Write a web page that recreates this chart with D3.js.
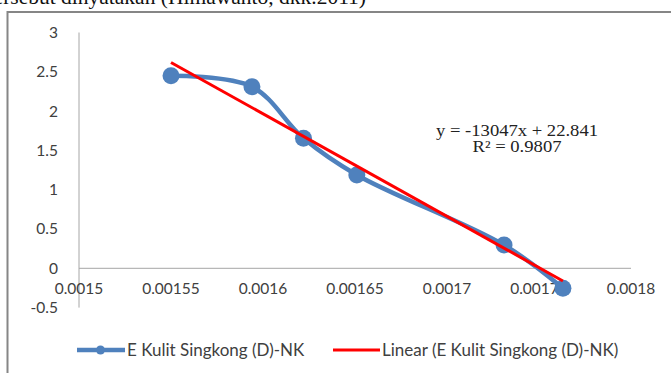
<!DOCTYPE html>
<html>
<head>
<meta charset="utf-8">
<script src="https://cdn.jsdelivr.net/npm/d3@7"></script>
<style>
  html, body { margin: 0; padding: 0; background: #fff; overflow: hidden; }
  svg { display: block; }
  .tick-label { font-family: Lato, "Open Sans", sans-serif; font-size: 15.5px; fill: #404040; }
  .legend-label { font-family: Lato, "Open Sans", sans-serif; font-size: 17px; fill: #404040; }
  .eq { font-family: "Liberation Serif", "Times New Roman", serif; font-size: 16px; fill: #222; }
  .caption { font-family: "Liberation Serif", "Times New Roman", serif; font-size: 21.5px; fill: #111; }
</style>
</head>
<body>
<script>
// Arrhenius-style plot: ln value against 1/T for the cassava-peel extract
const xValues = [0.00155, 0.001594, 0.001622, 0.001651, 0.001731, 0.001763];
const yValues = [2.45, 2.31, 1.654, 1.187, 0.296, -0.254];
const xTicks = [0.0015, 0.00155, 0.0016, 0.00165, 0.0017, 0.00175, 0.0018];
const xTickLabels = ["0.0015", "0.00155", "0.0016", "0.00165", "0.0017", "0.00175", "0.0018"];
const yTicks = [-0.5, 0, 0.5, 1, 1.5, 2, 2.5, 3];
const yTickLabels = ["-0.5", "0", "0.5", "1", "1.5", "2", "2.5", "3"];
const slope = -13047;
const intercept = 22.841;
const rSquared = 0.9807;
const seriesName = "E Kulit Singkong (D)-NK";
const trendName = "Linear (E Kulit Singkong (D)-NK)";
const captionText = "tersebut dinyatakan (Himawanto, dkk.2011)";

const W = 671, H = 373;
const blue = "#4F81BD", red = "#FF0000", axisGray = "#A6A6A6";

const svg = d3.select("body").append("svg").attr("width", W).attr("height", H);

// running text above the chart, partly cut by the page edge
svg.append("text").attr("class", "caption")
  .attr("x", 366).attr("y", 4).attr("text-anchor", "end")
  .text(captionText);

// chart frame
svg.append("rect")
  .attr("x", 7.5).attr("y", 12).attr("width", 700).attr("height", 400)
  .attr("fill", "#fff").attr("stroke", "#868686").attr("stroke-width", 2);

const x = d3.scaleLinear().domain([0.0015, 0.0018]).range([79, 631]);
const y = d3.scaleLinear().domain([-0.5, 3]).range([307.6, 32.5]);

// axes: plain lines, no tick marks
svg.append("line").attr("x1", x(0.0015)).attr("x2", x(0.0015))
  .attr("y1", y(3)).attr("y2", y(-0.5)).attr("stroke", axisGray).attr("stroke-width", 1);
svg.append("line").attr("x1", x(0.0015)).attr("x2", x(0.0018))
  .attr("y1", y(0)).attr("y2", y(0)).attr("stroke", axisGray).attr("stroke-width", 1);

svg.append("g").selectAll("text").data(yTicks).join("text")
  .attr("class", "tick-label")
  .attr("x", 58).attr("y", d => y(d)).attr("dy", "0.35em")
  .attr("text-anchor", "end")
  .text((d, i) => yTickLabels[i]);

svg.append("g").selectAll("text").data(xTicks).join("text")
  .attr("class", "tick-label")
  .attr("x", d => x(d)).attr("y", y(0) + 20).attr("dy", "0.35em")
  .attr("text-anchor", "middle")
  .text((d, i) => xTickLabels[i]);

// smoothed data series with markers
const pts = xValues.map((v, i) => [v, yValues[i]]);
const line = d3.line().x(d => x(d[0])).y(d => y(d[1])).curve(d3.curveCatmullRom.alpha(0.5));
svg.append("path").attr("d", line(pts))
  .attr("fill", "none").attr("stroke", blue).attr("stroke-width", 4.5)
  .attr("stroke-linejoin", "round").attr("stroke-linecap", "round");
svg.append("g").selectAll("circle").data(pts).join("circle")
  .attr("cx", d => x(d[0])).attr("cy", d => y(d[1])).attr("r", 8.5)
  .attr("fill", blue);

// linear trendline from the fitted equation
const xMin = d3.min(xValues), xMax = d3.max(xValues);
svg.append("line")
  .attr("x1", x(xMin)).attr("y1", y(slope * xMin + intercept))
  .attr("x2", x(xMax)).attr("y2", y(slope * xMax + intercept))
  .attr("stroke", red).attr("stroke-width", 3);

// trendline equation (slightly widened, as in the source chart)
const eqX = 517;
svg.append("text").attr("class", "eq").attr("x", eqX).attr("y", 136).attr("text-anchor", "middle")
  .attr("textLength", 162).attr("lengthAdjust", "spacingAndGlyphs")
  .text(`y = ${slope}x + ${intercept}`);
svg.append("text").attr("class", "eq").attr("x", eqX).attr("y", 152).attr("text-anchor", "middle")
  .attr("textLength", 89).attr("lengthAdjust", "spacingAndGlyphs")
  .text(`R² = ${rSquared}`);

// legend
const ly = 350;
const lg = svg.append("g");
lg.append("line").attr("x1", 77).attr("x2", 125).attr("y1", ly).attr("y2", ly)
  .attr("stroke", blue).attr("stroke-width", 4.5);
lg.append("circle").attr("cx", 100.5).attr("cy", ly).attr("r", 4.5).attr("fill", blue);
lg.append("text").attr("class", "legend-label").attr("x", 127).attr("y", ly).attr("dy", "0.35em").text(seriesName);
lg.append("line").attr("x1", 333).attr("x2", 380).attr("y1", ly).attr("y2", ly)
  .attr("stroke", red).attr("stroke-width", 3);
lg.append("text").attr("class", "legend-label").attr("x", 382).attr("y", ly).attr("dy", "0.35em").text(trendName);
</script>
</body>
</html>
